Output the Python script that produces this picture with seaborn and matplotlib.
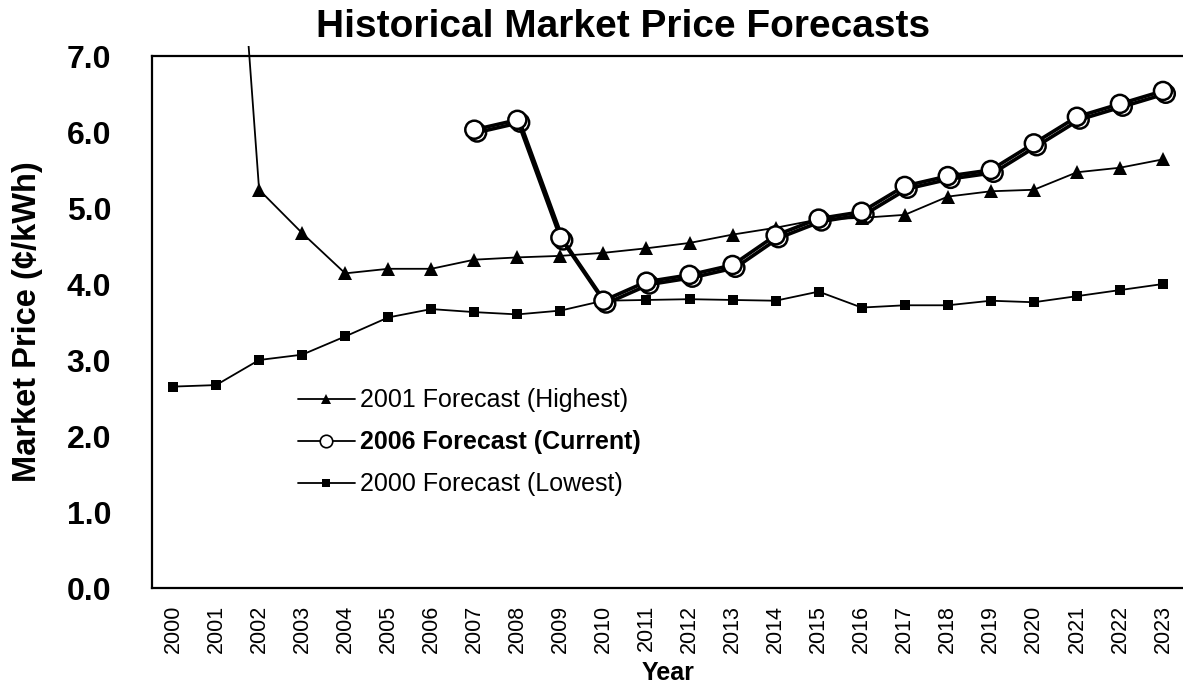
import numpy as np
import pandas as pd
import matplotlib
matplotlib.use("Agg")
import matplotlib.pyplot as plt
import matplotlib.patheffects as pe
from matplotlib.patches import Rectangle
from matplotlib.lines import Line2D
import seaborn as sns

# forecast values (cents/kWh)
years = list(range(2000, 2024))
low_2000 = [2.65, 2.67, 3.00, 3.07, 3.31, 3.56, 3.67, 3.63, 3.60, 3.65, 3.78, 3.79,
            3.80, 3.79, 3.78, 3.90, 3.69, 3.72, 3.72, 3.78, 3.76, 3.84, 3.92, 4.00]
high_years = list(range(2001, 2024))
high_2001 = [13.0, 5.24, 4.67, 4.14, 4.20, 4.20, 4.32, 4.35, 4.37, 4.41, 4.47, 4.54,
             4.65, 4.74, 4.85, 4.87, 4.91, 5.15, 5.22, 5.24, 5.47, 5.53, 5.64]
cur_years = list(range(2007, 2024))
cur_2006 = [6.03, 6.16, 4.61, 3.78, 4.03, 4.12, 4.25, 4.64, 4.86, 4.95, 5.29, 5.42,
            5.50, 5.85, 6.20, 6.37, 6.54]

labels = ["2001 Forecast (Highest)", "2006 Forecast (Current)", "2000 Forecast (Lowest)"]

sns.set_style("white")
plt.rcParams["font.family"] = ["Liberation Sans", "DejaVu Sans"]
plt.rcParams["text.color"] = "black"
plt.rcParams["axes.labelcolor"] = "black"
plt.rcParams["xtick.color"] = "black"
plt.rcParams["ytick.color"] = "black"

fig = plt.figure(figsize=(11.83, 6.88), dpi=100)
W, H = 1183, 688
ax = fig.add_axes([151.5 / W, 1 - 588 / H, 1033 / W, 532 / H])

low_df = pd.DataFrame({"year": years, "price": low_2000})
high_df = pd.DataFrame({"year": high_years, "price": high_2001})
cur_df = pd.DataFrame({"year": cur_years, "price": cur_2006})

sns.lineplot(data=low_df, x="year", y="price", ax=ax, color="black", linewidth=1.3,
             marker="s", markersize=7.5, markeredgewidth=0, legend=False)
sns.lineplot(data=high_df, x="year", y="price", ax=ax, color="black", linewidth=1.3,
             marker="^", markersize=9.5, markeredgewidth=0, legend=False)
sns.lineplot(data=cur_df, x="year", y="price", ax=ax, color="black", linewidth=2.6,
             marker="o", markersize=13, markerfacecolor="white", markeredgecolor="black",
             markeredgewidth=1.8, legend=False)

low_line, high_line, cur_line = ax.get_lines()[:3]
cur_line.set_path_effects([pe.SimpleLineShadow(offset=(2, -2), shadow_color="black", alpha=1),
                           pe.Normal()])
# the steep 2001 segment pokes a little above the plot frame
high_line.set_clip_path(Rectangle((0, 0), 1, 1.018, transform=ax.transAxes))

ax.set_xlim(1999.5, 2023.5)
ax.set_ylim(0, 7)
ax.set_xticks(years)
ax.set_xticklabels([str(y) for y in years], rotation=90, fontsize=15.5)
ax.set_yticks(np.arange(0, 7.01, 1.0))
ax.set_yticklabels([f"{v:.1f}" for v in np.arange(0, 7.01, 1.0)], fontsize=23, fontweight="bold")
ax.tick_params(axis="y", length=0, pad=29)
ax.tick_params(axis="x", length=0, pad=12)

for side in ["left", "bottom", "top"]:
    ax.spines[side].set_color("black")
    ax.spines[side].set_linewidth(1.6)
ax.spines["right"].set_visible(False)

ax.set_xlabel("Year", fontsize=18, fontweight="bold", labelpad=6)
ax.set_ylabel("Market Price (\u00a2/kWh)", fontsize=23.5, fontweight="bold", labelpad=17)
fig.text(623 / W, 1 - 27 / H, "Historical Market Price Forecasts", ha="center", va="center",
         fontsize=28, fontweight="bold")

handles = [
    Line2D([], [], color="black", lw=1.3, marker="^", markersize=7, markeredgewidth=0),
    Line2D([], [], color="black", lw=1.3, marker="o", markersize=9, markerfacecolor="white",
           markeredgewidth=1.2),
    Line2D([], [], color="black", lw=1.3, marker="s", markersize=6, markeredgewidth=0),
]
leg = ax.legend(handles, labels, loc="upper left", bbox_to_anchor=(275 / W, 1 - 366 / H),
                bbox_transform=fig.transFigure, frameon=False, fontsize=18,
                handlelength=2.3, handletextpad=0.2, labelspacing=0.72)
leg.get_texts()[1].set_fontweight("bold")

fig.savefig("out.png", dpi=100)
